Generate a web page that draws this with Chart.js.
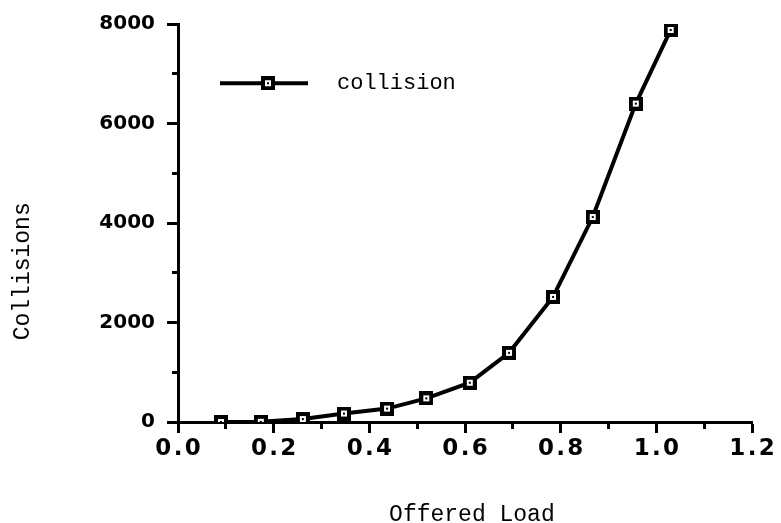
<!DOCTYPE html>
<html>
<head>
<meta charset="utf-8">
<script src="https://cdn.jsdelivr.net/npm/chart.js@4.4.0/dist/chart.umd.min.js"></script>
<style>
  html, body { margin: 0; padding: 0; background: #fff; }
  #wrap { width: 781px; height: 523px; }
</style>
</head>
<body>
<div id="wrap"><canvas id="chart-collisions"></canvas></div>
<script>
// values
const offeredLoad = [0.09, 0.173, 0.261, 0.347, 0.437, 0.519, 0.61, 0.692, 0.784, 0.867, 0.957, 1.03];
const collisions = [0, 5, 60, 170, 270, 475, 790, 1390, 2515, 4120, 6400, 7880];
const seriesName = 'collision';
const xTicks = [0.0, 0.2, 0.4, 0.6, 0.8, 1.0, 1.2];
const yTicks = [0, 2000, 4000, 6000, 8000];

const mono = 'Liberation Mono';
const bold = 'DejaVu Sans';

// black square with a small white square inside
function squareMarker() {
  const c = document.createElement('canvas');
  c.width = 14; c.height = 14;
  const g = c.getContext('2d');
  g.fillStyle = '#000';
  g.fillRect(0, 0, 14, 14);
  g.fillStyle = '#fff';
  g.fillRect(4, 4, 6, 6);
  g.fillStyle = '#000';
  g.fillRect(6, 6, 2, 2);
  return c;
}

// legend swatch: line with the marker in the middle
function legendSwatch() {
  const c = document.createElement('canvas');
  c.width = 106; c.height = 14;
  const g = c.getContext('2d');
  g.fillStyle = '#000';
  g.fillRect(0, 5, 88, 4);
  g.drawImage(squareMarker(), 41, 0);
  return c;
}

function isOn(list, v) {
  return list.some(t => Math.abs(t - v) < 1e-6);
}

const marker = squareMarker();
const swatch = legendSwatch();

const ctx = document.getElementById('chart-collisions').getContext('2d');
new Chart(ctx, {
  type: 'line',
  data: {
    datasets: [{
      label: seriesName,
      data: offeredLoad.map((x, i) => ({ x: x, y: collisions[i] })),
      borderColor: '#000',
      borderWidth: 4,
      tension: 0,
      pointStyle: marker,
      pointRadius: 7,
      pointHoverRadius: 7
    }]
  },
  options: {
    responsive: true,
    maintainAspectRatio: false,
    animation: false,
    events: [],
    layout: { padding: { top: 18, right: 29, left: 0, bottom: 0 } },
    plugins: {
      tooltip: { enabled: false },
      legend: {
        position: 'chartArea',
        align: 'start',
        title: { display: true, text: '', font: { size: 1 }, padding: { top: 0, bottom: 29 } },
        labels: {
          usePointStyle: true,
          pointStyle: swatch,
          pointStyleWidth: 106,
          padding: 42,
          color: '#000',
          font: { family: mono, size: 22 },
          generateLabels: chart => [{
            text: seriesName,
            pointStyle: swatch,
            fillStyle: '#000',
            strokeStyle: '#000',
            fontColor: '#000',
            lineWidth: 0,
            datasetIndex: 0,
            hidden: false
          }]
        }
      }
    },
    scales: {
      x: {
        type: 'linear',
        min: 0,
        max: 1.2,
        border: { color: '#000', width: 3 },
        grid: {
          drawOnChartArea: false,
          color: '#000',
          tickLength: 11,
          tickWidth: 3,
          tickBorderDash: c => isOn(xTicks, c.tick.value) ? [] : [5, 20]
        },
        ticks: {
          stepSize: 0.1,
          autoSkip: false,
          maxRotation: 0,
          padding: 2,
          color: '#000',
          font: { family: bold, weight: 'bold', size: 23 },
          callback: v => isOn(xTicks, v) ? v.toFixed(1).split('').join('\u200A') : ''
        },
        title: {
          display: true,
          text: ' Offered Load',
          color: '#000',
          font: { family: mono, size: 23 },
          padding: { top: 30, bottom: -6 }
        },
        afterFit: s => { s.height = 101; }
      },
      y: {
        min: 0,
        max: 8000,
        border: { color: '#000', width: 3 },
        grid: {
          drawOnChartArea: false,
          color: '#000',
          tickLength: 11,
          tickWidth: 3,
          tickBorderDash: c => isOn(yTicks, c.tick.value) ? [] : [6, 20],
          tickBorderDashOffset: c => isOn(yTicks, c.tick.value) ? 0 : -5
        },
        ticks: {
          stepSize: 1000,
          autoSkip: false,
          padding: 12,
          color: '#000',
          font: { family: bold, weight: 'bold', size: 20 },
          callback: v => isOn(yTicks, v) ? String(v) : ''
        },
        title: {
          display: true,
          // trailing spaces push the centred title down the axis
          text: 'Collisions       ',
          color: '#000',
          font: { family: mono, size: 23 },
          padding: { top: 9, bottom: 0 }
        },
        afterFit: s => { s.width = 178; }
      }
    }
  }
});
</script>
</body>
</html>
